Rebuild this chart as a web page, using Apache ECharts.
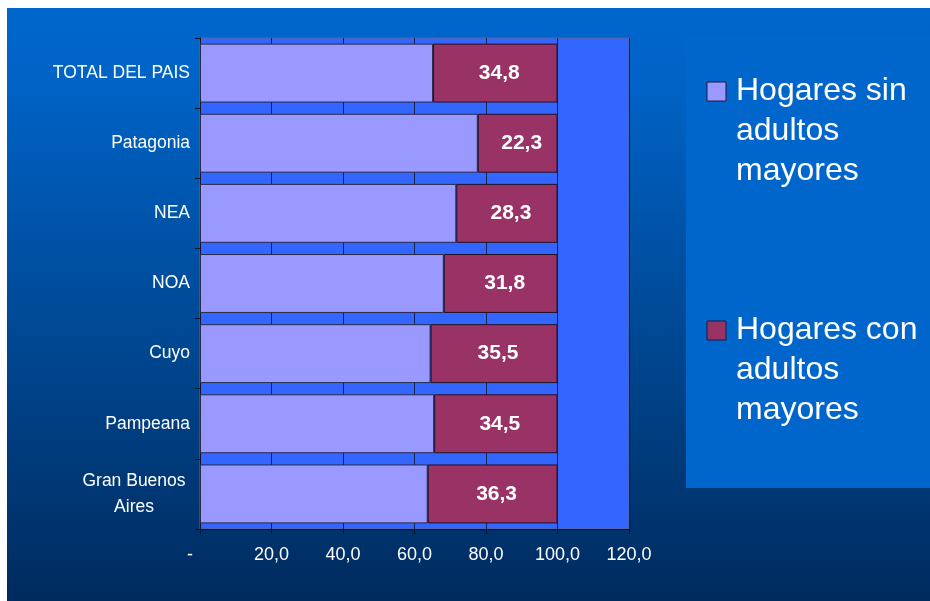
<!DOCTYPE html>
<html>
<head>
<meta charset="utf-8">
<script src="https://cdn.jsdelivr.net/npm/echarts@6/dist/echarts.min.js"></script>
<style>
    body { margin: 0; background: #ffffff; }
    #main { position: absolute; left: 7px; top: 8px; width: 923px; height: 593px; }
</style>
</head>
<body>
<div id="main"></div>
<script>
// datos
const categories = ['TOTAL DEL PAIS', 'Patagonia', 'NEA', 'NOA', 'Cuyo', 'Pampeana', 'Gran Buenos Aires'];
const yLabels = ['TOTAL DEL PAIS', 'Patagonia', 'NEA', 'NOA', 'Cuyo', 'Pampeana', 'Gran Buenos\nAires'];
const sinAdultos = [65.2, 77.7, 71.7, 68.2, 64.5, 65.5, 63.7];
const conAdultos = [34.8, 22.3, 28.3, 31.8, 35.5, 34.5, 36.3];
const xTickLabels = ['-    ', '20,0', '40,0', '60,0', '80,0', '100,0', '120,0'];
const seriesNames = ['Hogares sin adultos mayores', 'Hogares con adultos mayores'];
const legendLines = [['Hogares sin', 'adultos', 'mayores'], ['Hogares con', 'adultos', 'mayores']];
const colors = ['#9999FF', '#993366'];

const myChart = echarts.init(document.getElementById('main'));
const font = '"Liberation Sans", Arial, sans-serif';

// leyenda dibujada a mano (caja + marcadores)
const legendTop = [74, 313];
const legendGraphics = [{
    type: 'rect',
    shape: { x: 679, y: 28, width: 244, height: 452 },
    style: { fill: '#0066CC' },
    z: 0
}];
legendTop.forEach(function (t, i) {
    legendGraphics.push({
        type: 'rect',
        shape: { x: 700, y: t, width: 19, height: 19 },
        style: { fill: colors[i], stroke: '#1a1a3a', lineWidth: 1 }
    });
    legendGraphics.push({
        type: 'text',
        x: 729,
        y: t + 9.5,
        style: {
            text: legendLines[i].join('\n'),
            fill: '#ffffff',
            font: '32px ' + font,
            lineHeight: 40,
            verticalAlign: 'top',
            y: -20
        }
    });
});

const option = {
    animation: false,
    backgroundColor: new echarts.graphic.LinearGradient(0, 0, 0, 1, [
        { offset: 0, color: '#0066CC' },
        { offset: 0.12, color: '#0063C6' },
        { offset: 1, color: '#002B5E' }
    ]),
    graphic: legendGraphics,
    grid: {
        left: 193,
        top: 30,
        right: 301,
        bottom: 72,
        show: true,
        backgroundColor: '#3366FF',
        borderColor: '#666680',
        borderWidth: 1
    },
    xAxis: {
        type: 'value',
        min: 0,
        max: 120,
        interval: 20,
        axisLine: { show: true, lineStyle: { color: '#111122' } },
        axisTick: { show: true, length: 5, lineStyle: { color: '#111122' } },
        splitLine: { show: true, lineStyle: { color: '#15204f', width: 1 } },
        axisLabel: {
            color: '#ffffff',
            fontFamily: font,
            fontSize: 18,
            margin: 17,
            formatter: function (v) {
                return xTickLabels[Math.round(v / 20)];
            }
        }
    },
    yAxis: {
        type: 'category',
        inverse: true,
        data: categories,
        axisLine: { show: true, lineStyle: { color: '#111122' } },
        axisTick: { show: true, length: 5, lineStyle: { color: '#111122' } },
        axisLabel: {
            color: '#ffffff',
            fontFamily: font,
            fontSize: 17.5,
            margin: 10,
            lineHeight: 26,
            formatter: function (v, idx) {
                const lbl = yLabels[idx];
                if (lbl.indexOf('\n') >= 0) {
                    return lbl.split('\n').map(function (s) { return '{c|' + s + '}'; }).join('\n');
                }
                return lbl;
            },
            rich: {
                c: { width: 112, align: 'center', color: '#ffffff', fontFamily: font, fontSize: 17.5, lineHeight: 26 }
            }
        }
    },
    series: [
        {
            name: seriesNames[0],
            type: 'bar',
            stack: 'total',
            barCategoryGap: '16%',
            data: sinAdultos,
            itemStyle: { color: colors[0], borderColor: '#2a2a44', borderWidth: 1 }
        },
        {
            name: seriesNames[1],
            type: 'bar',
            stack: 'total',
            barCategoryGap: '16%',
            data: conAdultos,
            itemStyle: { color: colors[1], borderColor: '#221122', borderWidth: 1 },
            label: {
                show: true,
                position: 'inside',
                offset: [4, 0],
                color: '#ffffff',
                fontFamily: font,
                fontWeight: 'bold',
                fontSize: 21,
                formatter: function (p) {
                    return p.value.toFixed(1).replace('.', ',');
                }
            }
        }
    ]
};

myChart.setOption(option);
</script>
</body>
</html>
